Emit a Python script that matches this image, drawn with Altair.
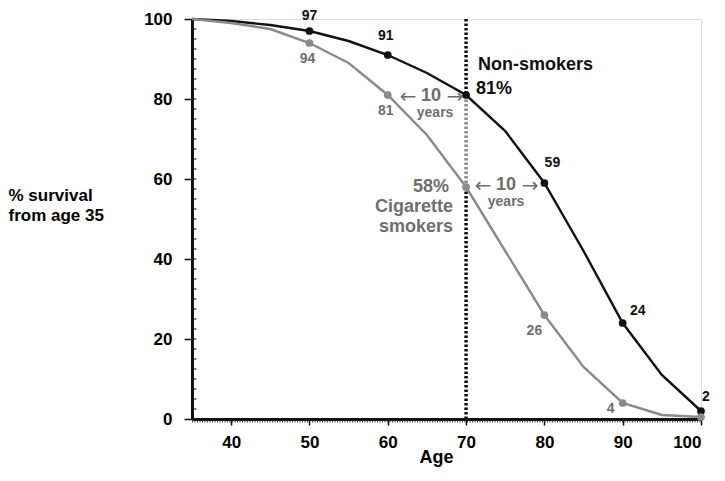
import altair as alt
import pandas as pd

ages = [35, 40, 45, 50, 55, 60, 65, 70, 75, 80, 85, 90, 95, 100]
non_smokers = [100, 99.5, 98.5, 97, 94.5, 91, 86.5, 81, 72, 59, 42, 24, 11, 2]
smokers = [100, 99, 97.5, 94, 89, 81, 71, 58, 42, 26, 13, 4, 1, 0.5]
marker_ages = [50, 60, 70, 80, 90, 100]
x_ticks = [40, 50, 60, 70, 80, 90, 100]
y_ticks = [0, 20, 40, 60, 80, 100]
y_minor = [v / 2 for v in range(5, 200, 5)]  # every 2.5 units (decorative minor ticks)

BLACK = "#111111"
GREY_LINE = "#8a8a8a"
GREY_TEXT = "#6e6e6e"
FONT = "Liberation Sans"
ARROW_FONT = "DejaVu Sans"
PLOT_W, PLOT_H = 509, 400

rows = []
for a, v in zip(ages, non_smokers):
    rows.append({"age": a, "pct": v, "series": "Non-smokers"})
for a, v in zip(ages, smokers):
    rows.append({"age": a, "pct": v, "series": "Cigarette smokers"})
df = pd.DataFrame(rows)
pts = df[df["age"].isin(marker_ages)]

xs = alt.Scale(domain=[35, 100], nice=False, zero=False)
ys = alt.Scale(domain=[0, 100], nice=False)
cs = alt.Scale(domain=["Non-smokers", "Cigarette smokers"], range=[BLACK, GREY_LINE])

x_enc = alt.X("age:Q", scale=xs, axis=alt.Axis(
    values=x_ticks, title="Age", labelFont=FONT, labelFontWeight="bold", labelFontSize=17,
    labelColor="black", labelPadding=9, tickSize=6, tickWidth=1.5, tickColor=BLACK,
    domainWidth=3, domainColor=BLACK, grid=False,
    titleFont=FONT, titleFontWeight="bold", titleFontSize=18, titleColor="black",
    titleX=244, titleY=38, titleBaseline="middle", titleAnchor="middle"))
y_enc = alt.Y("pct:Q", scale=ys, axis=alt.Axis(
    values=y_ticks, title=["% survival", "from age 35"], labelFont=FONT, labelFontWeight="bold",
    labelFontSize=17, labelColor="black", labelPadding=12, tickSize=8, tickWidth=1.5,
    tickColor=BLACK, domainWidth=3, domainColor=BLACK, grid=False,
    titleFont=FONT, titleFontWeight="bold", titleFontSize=17, titleColor="black",
    titleAngle=0, titleAlign="left", titleBaseline="middle", titleX=-184, titleY=176,
    titleLineHeight=20))

lines = alt.Chart(df).mark_line(strokeWidth=2.4).encode(
    x=x_enc, y=y_enc,
    color=alt.Color("series:N", scale=cs, legend=None),
    detail="series:N")
markers = alt.Chart(pts).mark_point(filled=True, size=60, opacity=1).encode(
    x=alt.X("age:Q", scale=xs), y=alt.Y("pct:Q", scale=ys),
    color=alt.Color("series:N", scale=cs, legend=None))

# decorative minor ticks / axis texture
minor_y = alt.Chart(pd.DataFrame({"v": y_minor})).mark_rule(
    strokeWidth=1.2, color="#333333").encode(
    y=alt.Y("v:Q", scale=ys), x=alt.value(1.5), x2=alt.value(4.5))
x_texture = alt.Chart(pd.DataFrame({"a": [35], "b": [100]})).mark_rule(
    strokeWidth=2, strokeDash=[1, 1.5], color="#444444").encode(
    x=alt.X("a:Q", scale=xs), x2="b:Q", y=alt.value(PLOT_H + 2.5))

# dotted vertical at age 70
ref_age = 70
ns70 = non_smokers[ages.index(ref_age)]
sm70 = smokers[ages.index(ref_age)]
rule_df = pd.DataFrame([
    {"age": ref_age, "y1": 100, "y2": ns70, "c": BLACK},
    {"age": ref_age, "y1": ns70, "y2": sm70, "c": GREY_LINE},
    {"age": ref_age, "y1": sm70, "y2": 0, "c": BLACK},
])
rules = alt.Chart(rule_df).mark_rule(strokeWidth=3.5, strokeDash=[2.5, 2]).encode(
    x=alt.X("age:Q", scale=xs), y=alt.Y("y1:Q", scale=ys), y2="y2:Q",
    color=alt.Color("c:N", scale=None))


def label(text, age, pct, dx, dy, color, size, align="center", font=FONT, weight="bold"):
    d = pd.DataFrame([{"age": age, "pct": pct, "t": text}])
    return alt.Chart(d).mark_text(
        font=font, fontWeight=weight, fontSize=size, color=color,
        align=align, baseline="middle", dx=dx, dy=dy).encode(
        x=alt.X("age:Q", scale=xs), y=alt.Y("pct:Q", scale=ys), text="t:N")


def ns(a):
    return non_smokers[ages.index(a)]


def sm(a):
    return smokers[ages.index(a)]


texts = [
    label("97", 50, ns(50), 0, -15, BLACK, 14),
    label("91", 60, ns(60), -2, -19, BLACK, 14),
    label("59", 80, ns(80), 8, -20, BLACK, 14),
    label("24", 90, ns(90), 15, -12, BLACK, 14),
    label("2", 100, ns(100), 5, -14, BLACK, 14),
    label("94", 50, sm(50), -2, 16, GREY_TEXT, 14),
    label("81", 60, sm(60), -2, 16, GREY_TEXT, 14),
    label("26", 80, sm(80), -10, 16, GREY_TEXT, 14),
    label("4", 90, sm(90), -12, 6, GREY_TEXT, 14),
    label("Non-smokers", 70, ns70, 12, -30, BLACK, 18, "left"),
    label("81%", 70, ns70, 10, -6, BLACK, 18, "left"),
    label("\u2190", 70, ns70, -58, 2, GREY_TEXT, 20, font=ARROW_FONT, weight="normal"),
    label("10", 70, ns70, -35, 1, GREY_TEXT, 18),
    label("\u2192", 70, ns70, -11, 2, GREY_TEXT, 20, font=ARROW_FONT, weight="normal"),
    label("years", 70, ns70, -31, 18, GREY_TEXT, 14),
    label("58%", 70, sm70, -17, 0, GREY_TEXT, 18, "right"),
    label("Cigarette", 70, sm70, -13, 20, GREY_TEXT, 18, "right"),
    label("smokers", 70, sm70, -13, 40, GREY_TEXT, 18, "right"),
    label("\u2190", 70, sm70, 17, -1, GREY_TEXT, 20, font=ARROW_FONT, weight="normal"),
    label("10", 70, sm70, 40, -2, GREY_TEXT, 18),
    label("\u2192", 70, sm70, 64, -1, GREY_TEXT, 20, font=ARROW_FONT, weight="normal"),
    label("years", 70, sm70, 40, 15, GREY_TEXT, 14),
]

chart = alt.layer(lines, x_texture, minor_y, rules, markers, *texts).properties(
    width=PLOT_W, height=PLOT_H,
    padding={"left": 184, "top": 11, "right": 16, "bottom": 49},
    autosize=alt.AutoSizeParams(type="none"),
).configure_view(stroke=None).configure(background="white")

chart.save("out.html", embed_options={"renderer": "svg", "actions": False})
